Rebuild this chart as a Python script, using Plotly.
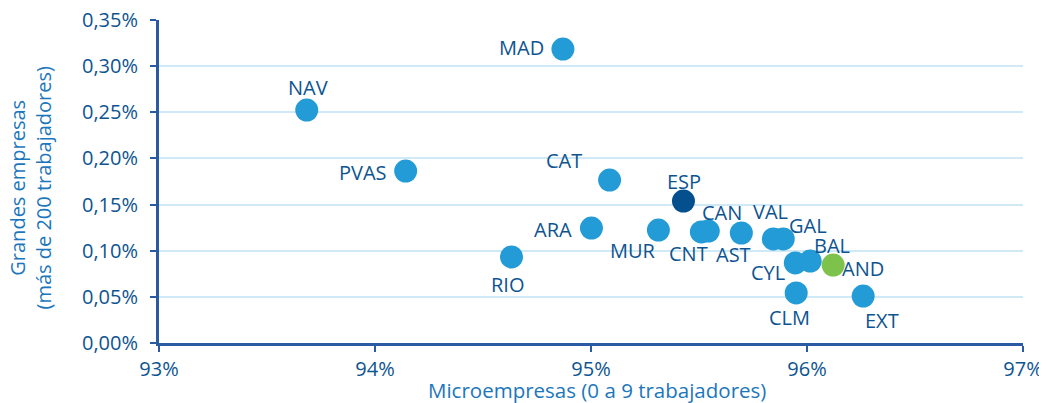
import plotly.graph_objects as go

regions = ["MAD", "NAV", "PVAS", "CAT", "ESP", "ARA", "MUR", "CNT", "CAN", "AST",
           "VAL", "GAL", "CYL", "BAL", "AND", "CLM", "EXT", "RIO"]
micro = [94.87, 93.684, 94.142, 95.086, 95.428, 95.002, 95.312, 95.511, 95.543, 95.696,
         95.844, 95.890, 95.946, 96.015, 96.121, 95.950, 96.260, 94.632]
grandes = [0.3185, 0.2524, 0.1863, 0.1766, 0.1538, 0.1246, 0.1224, 0.1203, 0.1213, 0.1192,
           0.1127, 0.1127, 0.0867, 0.0888, 0.0845, 0.0542, 0.0509, 0.0932]

x_ticks = [93, 94, 95, 96, 97]
x_ticktext = ["93%", "94%", "95%", "96%", "97%"]
y_ticks = [0, 0.05, 0.10, 0.15, 0.20, 0.25, 0.30, 0.35]
y_ticktext = ["0,00%", "0,05%", "0,10%", "0,15%", "0,20%", "0,25%", "0,30%", "0,35%"]

x_title = "Microempresas (0 a 9 trabajadores)"
y_title = "Grandes empresas<br>(más de 200 trabajadores)"

# styling (label offsets in pixels, colours)
label_offsets = {
    "MAD": (-41, 2), "NAV": (1, 23), "PVAS": (-43, -1), "CAT": (-46, 20), "ESP": (1, 20),
    "ARA": (-38, -1), "MUR": (-25, -20), "CNT": (-13, -22), "CAN": (14, 19), "AST": (-8, -21),
    "VAL": (-3, 27), "GAL": (25, 13), "CYL": (-27, -10), "BAL": (22, 16), "AND": (30, -3),
    "CLM": (-7, -25), "EXT": (19, -24), "RIO": (-4, -28),
}
base_color = "#239bd6"
special = {"ESP": "#04508f", "AND": "#7dc24a"}
colors = [special.get(r, base_color) for r in regions]
text_color = "#0d5490"
title_color = "#1c76bc"
axis_color = "#2b5aa5"
font_family = "Open Sans, Lato, sans-serif"

fig = go.Figure()
fig.add_trace(go.Scatter(
    x=micro, y=grandes, mode="markers",
    marker=dict(size=23, color=colors, line=dict(width=0)),
    hoverinfo="text", text=regions, showlegend=False,
))

for r, xv, yv in zip(regions, micro, grandes):
    dx, dy = label_offsets[r]
    fig.add_annotation(x=xv, y=yv, text=r, showarrow=False, xshift=dx, yshift=dy,
                       font=dict(size=20, color=text_color, family=font_family))

fig.add_annotation(xref="paper", yref="paper", x=0.5, y=0, xshift=6, yshift=-47,
                   text=x_title, showarrow=False, xanchor="center", yanchor="middle",
                   font=dict(size=20.5, color=title_color, family=font_family))
fig.add_annotation(xref="paper", yref="paper", x=0, y=0.5, xshift=-129, yshift=-6,
                   text=y_title, showarrow=False, textangle=-90, xanchor="center", yanchor="middle",
                   font=dict(size=20, color=title_color, family=font_family))

# page has an 8px body margin, so the figure is sized to fit the remaining window
fig.update_layout(
    width=1039, height=395,
    margin=dict(l=151, r=24, t=12, b=60),
    plot_bgcolor="white", paper_bgcolor="white",
    font=dict(family=font_family, color=text_color, size=20),
    xaxis=dict(range=[93, 97], tickvals=x_ticks, ticktext=x_ticktext, automargin=False,
               showgrid=False, zeroline=False, showline=True, linecolor=axis_color, linewidth=3,
               ticks="outside", tickcolor=axis_color, ticklen=6, tickwidth=2,
               ticklabeloverflow="allow",
               tickfont=dict(size=20, color=text_color)),
    yaxis=dict(range=[0, 0.35], tickvals=y_ticks, ticktext=y_ticktext, automargin=False,
               showgrid=True, gridcolor="#cfe9f6", gridwidth=1.5, zeroline=False,
               showline=True, linecolor=axis_color, linewidth=3,
               ticks="outside", tickcolor=axis_color, ticklen=6, tickwidth=2,
               ticklabelstandoff=8, ticklabeloverflow="allow",
               tickfont=dict(size=20, color=text_color)),
)

fig.write_html("out.html")
